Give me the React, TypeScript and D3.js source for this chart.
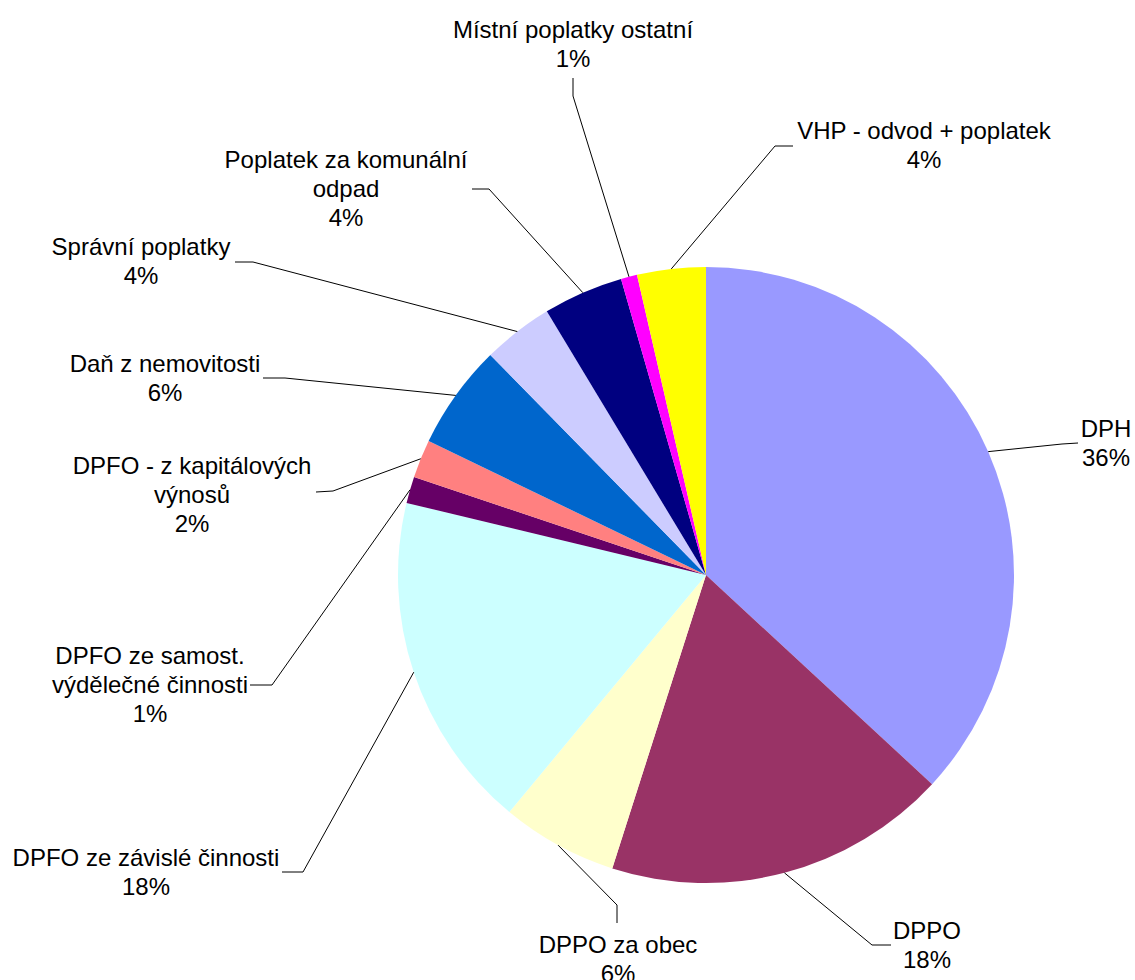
import React, { useEffect, useRef } from 'react';
import * as d3 from 'd3';

// slices clockwise from 12 o'clock
const categories = [
  'DPH',
  'DPPO',
  'DPPO za obec',
  'DPFO ze závislé činnosti',
  'DPFO ze samost.\nvýdělečné činnosti',
  'DPFO - z kapitálových\nvýnosů',
  'Daň z nemovitosti',
  'Správní poplatky',
  'Poplatek za komunální\nodpad',
  'Místní poplatky ostatní',
  'VHP - odvod + poplatek',
];
const shares = [36.9, 18.05, 6.1, 17.75, 1.4, 2.0, 5.5, 3.7, 4.2, 0.85, 3.6];
const percentLabels = ['36%', '18%', '6%', '18%', '1%', '2%', '6%', '4%', '4%', '1%', '4%'];
const colors = ['#9999FF', '#993366', '#FFFFCC', '#CCFFFF', '#660066', '#FF8080', '#0066CC', '#CCCCFF', '#000080', '#FF00FF', '#FFFF00'];

// label placement: text centre x, first line centre y, leader elbow and end
const labelX = [1106, 927, 618, 146, 150, 192, 165, 141, 346, 573, 924];
const labelY = [429, 931, 945, 858, 656, 466, 364, 247, 160, 30, 131];
const elbows = [[1062, 444], [872, 945], [617, 905], [303, 872], [272, 685], [333, 491], [285, 378], [253, 262], [489, 189], [573, 96], [775, 146]];
const ends = [[1078, 443], [891, 945], [617, 923], [282, 872], [250, 685], [316, 492], [263, 378], [235, 262], [472, 189], [573, 78], [793, 146]];

const W = 1135, H = 980;
const cx = 706, cy = 575, R = 308;
const lineH = 28.7;

export default function App() {
  const ref = useRef<SVGSVGElement>(null);

  useEffect(() => {
    const svg = d3.select(ref.current);
    svg.selectAll('*').remove();

    const pie = d3.pie<number>().sort(null).value(d => d).startAngle(0).endAngle(2 * Math.PI);
    const arcs = pie(shares);
    const arc = d3.arc<d3.PieArcDatum<number>>().innerRadius(0).outerRadius(R);

    const g = svg.append('g').attr('transform', `translate(${cx},${cy})`);
    g.selectAll('path').data(arcs).join('path')
      .attr('d', arc)
      .attr('fill', (d, i) => colors[i]);

    // leader lines from the slice edge at its middle angle
    const leaders = svg.append('g');
    arcs.forEach((a, i) => {
      const mid = (a.startAngle + a.endAngle) / 2;
      const sx = cx + R * Math.sin(mid);
      const sy = cy - R * Math.cos(mid);
      leaders.append('polyline')
        .attr('points', [[sx, sy], elbows[i], ends[i]].map(p => p.join(',')).join(' '))
        .attr('fill', 'none')
        .attr('stroke', '#000')
        .attr('stroke-width', 1);
    });

    const labels = svg.append('g')
      .attr('font-family', 'Liberation Sans, Arial, sans-serif')
      .attr('font-size', 24)
      .attr('fill', '#000')
      .attr('text-anchor', 'middle');

    categories.forEach((name, i) => {
      const lines = name.split('\n').concat([percentLabels[i]]);
      const t = labels.append('text');
      lines.forEach((ln, j) => {
        t.append('tspan')
          .attr('x', labelX[i])
          .attr('y', labelY[i] + j * lineH)
          .attr('dy', '0.35em')
          .text(ln);
      });
    });
  }, []);

  return (
    <svg ref={ref} width={W} height={H}
      style={{ position: 'absolute', left: 0, top: 0, background: '#fff' }} />
  );
}
